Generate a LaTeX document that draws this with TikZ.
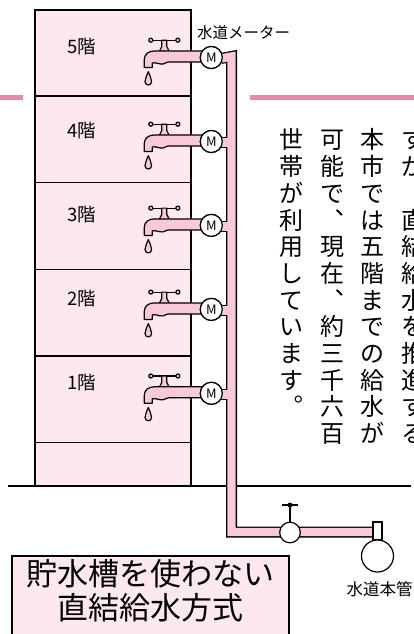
\documentclass[tikz,border=0pt]{standalone}
\usepackage{fontspec}
\setmainfont{Noto Sans CJK JP}
\definecolor{roomfill}{HTML}{FDE8EF}
\definecolor{pipefill}{HTML}{F8C9D7}
\definecolor{rulepink}{HTML}{EE86A9}
\begin{document}
\begin{tikzpicture}[x=1pt,y=-1pt,
  wall/.style={line width=2pt},
  floorline/.style={line width=1.2pt},
  pipeout/.style={line width=11pt, black, line join=miter},
  pipein/.style={line width=8.4pt, pipefill, line join=miter},
  meter/.style={circle, draw, fill=white, line width=1.2pt, minimum size=22pt,
    inner sep=0pt, font=\fontsize{13}{13}\selectfont},
  floorlabel/.style={anchor=west, inner sep=0pt, font=\fontsize{18.5}{18.5}\selectfont},
  vchar/.style={inner sep=0pt, text height=20.4pt, text depth=2.6pt,
    font=\fontsize{24}{24}\selectfont},
  faucet/.style={fill=pipefill, draw, line width=1.2pt, line join=round},
  smalllabel/.style={anchor=west, inner sep=0pt},
]
\path[use as bounding box] (0,0) rectangle (414,634);

% pink rule across the page
\draw[rulepink, line width=5pt] (0,97) -- (22.5,97) (250,97) -- (414,97);

% building with five floors
\fill[roomfill] (35,10) rectangle (190.5,486);
\foreach \y in {96,182.7,269.3,356,442.3}
  \draw[floorline] (35,\y) -- (190.5,\y);
\draw[wall] (35,486) -- (35,10) -- (190.5,10) -- (190.5,486);

% ground line
\draw[line width=1.8pt] (8,486) -- (411,486);

% floor labels
\foreach \k/\my in {5/57.5,4/141.5,3/225.4,2/309.4,1/393.3}
  \node[floorlabel] (fl\k) at (67,\my-10.5) {\k 階};

% taps on every floor
\foreach \k/\my in {5/57.5,4/141.5,3/225.4,2/309.4,1/393.3}{
  \begin{scope}[shift={(211.3,\my)}]
    % handle
    \draw[line width=1.2pt] (-60.5,-17.3) -- (-33.5,-17.3);
    \filldraw[faucet] (-60.5,-17.3) circle (2);
    \filldraw[faucet] (-33.5,-17.3) circle (2);
    \filldraw[faucet] (-49.5,-17.3) -- (-44.5,-17.3) -- (-44.5,-11) -- (-42,-6)
      -- (-52,-6) -- (-49.5,-11) -- cycle;
    % body and spout
    \filldraw[faucet] (-8,-6.5) -- (-57,-6.5)
      .. controls (-63,-6.5) and (-67,-3) .. (-67,2) -- (-67,10) -- (-59,10)
      -- (-59,5.5) .. controls (-56,4.5) and (-52,7) .. (-48,6.5)
      .. controls (-46,6) and (-45,4.5) .. (-43,4.5) -- (-8,4.5) -- cycle;
    % drop
    \filldraw[faucet] (-63,14.2) .. controls (-62,17.5) and (-59.7,20.5) .. (-59.7,24.2)
      arc[start angle=0, end angle=180, radius=3.3]
      .. controls (-66.3,20.5) and (-64,17.5) .. (-63,14.2) -- cycle;
  \end{scope}
}

% meters
\foreach \k/\my in {5/57.5,4/141.5,3/225.4,2/309.4,1/393.3}
  \node[meter] (m\k) at (211.3,\my) {M};

% riser pipe and branches (outline pass, then fill pass)
\coordinate (top) at (231.5,56.5);
\coordinate (foot) at (231.5,532);
\coordinate (main) at (377.5,532);
\draw[pipeout] ([xshift=-2pt,yshift=-1pt]m5.east) -- (top) -- (foot) -- (main);
\foreach \k in {4,3,2,1}
  \draw[pipeout] ([xshift=-2pt,yshift=-1pt]m\k.east) -- ++(13,0);
\draw[pipein] ([xshift=-2pt,yshift=-1pt]m5.east) -- (top) -- (foot) -- (main);
\foreach \k in {4,3,2,1}
  \draw[pipein] ([xshift=-2pt,yshift=-1pt]m\k.east) -- ++(13,0);
\foreach \k in {5,4,3,2,1}
  \node[meter] at (m\k) {M};

% stop valve on the service pipe
\node[circle, draw, fill=white, line width=1.2pt, minimum size=20.6pt, inner sep=0pt]
  (valve) at (290,532.5) {};
\coordinate (stemtop) at (290,505);
\draw[line width=1.2pt] (valve.north) -- (stemtop);
\draw[line width=1.2pt] ([xshift=-8pt]stemtop) -- ([xshift=8pt]stemtop);
\fill (stemtop) circle (2.5);

% connection to the water main
\node[draw, fill=white, line width=1.2pt, minimum width=9pt, minimum height=18pt,
  inner sep=0pt] (joint) at (377.5,531) {};
\node[circle, draw, fill=white, line width=1.2pt, minimum size=32pt, inner sep=0pt]
  (mainpipe) at (377.5,556) {};

% labels
\node[smalllabel, font=\fontsize{15.5}{15.5}\selectfont] (meterlabel) at (197,33) {水道メーター};
\node[smalllabel, font=\fontsize{16.5}{16.5}\selectfont] (mainlabel) at (346.5,589) {水道本管};

% title box
\filldraw[fill=roomfill, line width=1.2pt] (12,556) rectangle (289,640);
\node[align=center, inner sep=0pt, font=\fontsize{31}{34}\selectfont] (title) at (150.5,591)
  {貯水槽を使わない\\直結給水方式};

% vertical text, columns right to left
\foreach \c [count=\i] in {す,が,︑,直,結,給,水,を,推,進,す,る}
  \node[vchar] (a\i) at (413,{140+(\i-1)*26.7}) {\c};
\foreach \c [count=\i] in {本,市,で,は,五,階,ま,で,の,給,水,が}
  \node[vchar] (b\i) at (372.5,{140+(\i-1)*26.7}) {\c};
\foreach \c [count=\i] in {可,能,で,︑,現,在,︑,約,三,千,六,百}
  \node[vchar] (c\i) at (332.5,{140+(\i-1)*26.7}) {\c};
\foreach \c [count=\i] in {世,帯,が,利,用,し,て,い,ま,す,︒}
  \node[vchar] (d\i) at (291.5,{140+(\i-1)*26.7}) {\c};
\end{tikzpicture}
\end{document}
